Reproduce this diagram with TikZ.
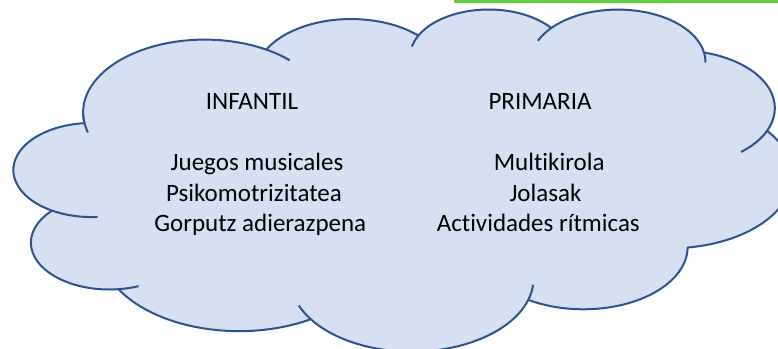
\documentclass[tikz,border=0pt]{standalone}
\usepackage{fontspec}
\setmainfont{Carlito}[Ligatures=NoCommon]
\definecolor{cloudfill}{RGB}{214,224,242}
\definecolor{cloudline}{RGB}{47,82,143}
\definecolor{markgreen}{RGB}{98,208,62}
\begin{document}
\begin{tikzpicture}[x=1pt,y=1pt,
  cloud/.style={draw=cloudline, line width=2pt, fill=cloudfill, line join=round},
  crease/.style={draw=cloudline, line width=2pt},
  lbl/.style={anchor=base, font=\fontsize{25}{30}\selectfont, inner sep=0pt, text=black}]
\useasboundingbox (0,0) rectangle (778,348);
\begin{scope}
\clip (0,0) rectangle (778,348);
\path[cloud] (84.236,225.837)
  arc[start angle=187.75, end angle=59.64, x radius=121.617pt, y radius=72.754pt]
  arc[start angle=152.02, end angle=45.45, x radius=96.044pt, y radius=57.531pt]
  arc[start angle=153.49, end angle=37.33, x radius=78.611pt, y radius=47.065pt]
  arc[start angle=139.71, end angle=10.21, x radius=87.471pt, y radius=52.211pt]
  arc[start angle=74.77, end angle=-23.21, x radius=96.044pt, y radius=57.578pt]
  arc[start angle=37.53, end angle=-81.86, x radius=122.013pt, y radius=72.992pt]
  arc[start angle=-0.46, end angle=-121.98, x radius=104.184pt, y radius=62.281pt]
  arc[start angle=-16.85, end angle=-146.24, x radius=121.599pt, y radius=72.952pt]
  arc[start angle=-58.99, end angle=-150.19, x radius=139.032pt, y radius=83.466pt]
  arc[start angle=276.69, end angle=136.89, x radius=78.521pt, y radius=46.851pt]
  arc[start angle=239.65, end angle=95.89, x radius=78.250pt, y radius=47.065pt]
  -- cycle;
% inner creases
\draw[crease] (97.673,131.054) arc[start angle=-85.55, end angle=-120.35, x radius=78.250pt, y radius=47.065pt];
\draw[crease] (138.497,61.836) arc[start angle=-68.24, end angle=-83.31, x radius=78.521pt, y radius=46.851pt];
\draw[crease] (310.793,28.767) arc[start angle=-146.24, end angle=-158.47, x radius=121.599pt, y radius=72.952pt];
\draw[crease] (533.071,63.277) arc[start angle=-4.74, end angle=-16.85, x radius=121.599pt, y radius=72.952pt];
\draw[crease] (767.109,217.209) arc[start angle=-23.21, end angle=-49.64, x radius=96.044pt, y radius=57.578pt];
\draw[crease] (704.068,295.456) arc[start angle=10.21, end angle=-0.82, x radius=87.471pt, y radius=52.211pt];
\draw[crease] (537.899,307.204) arc[start angle=156.28, end angle=139.71, x radius=87.471pt, y radius=52.211pt];
\draw[crease] (411.939,301.423) arc[start angle=167.73, end angle=153.49, x radius=78.611pt, y radius=47.065pt];
\draw[crease] (266.215,298.420) arc[start angle=59.64, end angle=45.73, x radius=121.617pt, y radius=72.754pt];
\draw[crease] (87.881,215.502) arc[start angle=-163.93, end angle=-177.79, x radius=121.617pt, y radius=72.754pt];
% green mark at the top
\fill[markgreen] (454,345) rectangle (778,348);
\end{scope}
% texts
\node[lbl] (inf)  at (252,238.7) {INFANTIL};
\node[lbl] (jue)  at (257,177) {Juegos musicales};
\node[lbl] (psi)  at (254,146.3) {Psikomotrizitatea};
\node[lbl] (gor)  at (260.3,116.3) {Gorputz adierazpena};
\node[lbl] (pri)  at (540,238.7) {PRIMARIA};
\node[lbl] (mul)  at (549.2,177) {Multikirola};
\node[lbl] (jol)  at (545.5,146.3) {Jolasak};
\node[lbl] (act)  at (538.3,116) {Actividades rítmicas};
\end{tikzpicture}
\end{document}
